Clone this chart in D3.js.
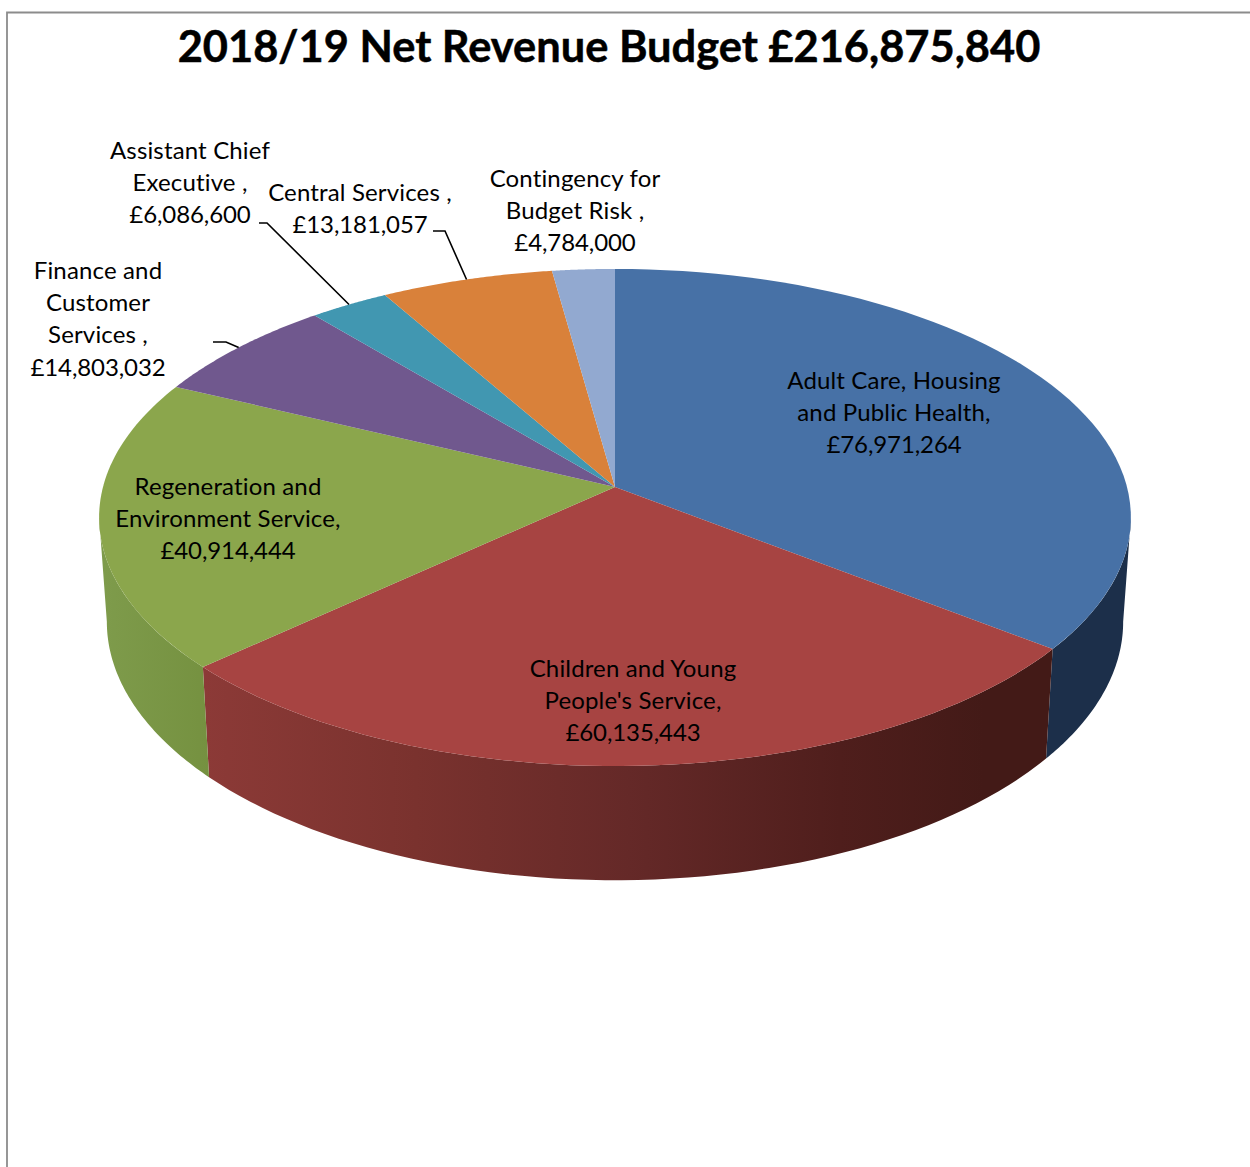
<!DOCTYPE html>
<html>
<head>
<meta charset="utf-8">
<script src="https://cdn.jsdelivr.net/npm/d3@7"></script>
<style>
html,body{margin:0;padding:0;background:#fff;}
svg{display:block;}
text{font-family:Lato,"Noto Sans",sans-serif;fill:#000;font-variant-ligatures:none;}
</style>
</head>
<body>
<script>
// Budget by service area, in pounds
const services = ["Adult Care, Housing and Public Health","Children and Young People's Service","Regeneration and Environment Service","Finance and Customer Services","Assistant Chief Executive","Central Services","Contingency for Budget Risk"];
const budgets = [76971264,60135443,40914444,14803032,6086600,13181057,4784000];
const topColours = ["#4771a6","#a74442","#8ba64c","#70588e","#4197b1","#d9813a","#92a9d0"];
const labelLines = [
  ["Adult Care, Housing","and Public Health,","£76,971,264"],
  ["Children and Young","People's Service,","£60,135,443"],
  ["Regeneration and","Environment Service,","£40,914,444"],
  ["Finance and","Customer","Services ,","£14,803,032"],
  ["Assistant Chief","Executive ,","£6,086,600"],
  ["Central Services ,","£13,181,057"],
  ["Contingency for","Budget Risk ,","£4,784,000"]
];
const labelX = [894,633,228,98,190,360,575];
const labelY = [381,669,487,271,151,193,179];
const leaderStart = [null,null,null,[213,342,226],[259,223,267],[433,231,445],null];
const titleText = "2018/19 Net Revenue Budget £216,875,840";

const W = 1250, H = 1167;
const svg = d3.select("body").append("svg").attr("width",W).attr("height",H);

// Frame: top and left edges run off the page
svg.append("path").attr("d",`M7,${H}V12.5H${W}`).attr("fill","none").attr("stroke","#8c8c8c").attr("stroke-width",1.8);

// Perspective disc: angle on the unit circle to screen position
const cx = 615, cy = 487, ax = 512, by = 244.8, persp = -0.1227;
const topFace = a => {
  const u = Math.sin(a), v = -Math.cos(a), w = 1 + persp*v;
  return [cx + ax*u/w, cy + by*v/w];
};
const baseFace = a => {
  const [x,y] = topFace(a);
  return [cx + 0.985*(x-cx), 590 + 1.04*(y-cy)];
};
const sampled = (f,a0,a1) => d3.range(0,61).map(i => f(a0+(a1-a0)*i/60));
const line = d3.line();

const arcs = d3.pie().sort(null).value(d=>d)(budgets);

// Side wall colours
const defs = svg.append("defs");
const redWall = defs.append("linearGradient").attr("id","wallRed").attr("gradientUnits","userSpaceOnUse")
  .attr("x1",204).attr("x2",1052).attr("y1",0).attr("y2",0);
[[0,"#8c3a37"],[0.25,"#7a322e"],[0.5,"#652928"],[0.75,"#4f1e1c"],[0.92,"#431a17"],[1,"#431a17"]]
  .forEach(([o,c])=>redWall.append("stop").attr("offset",o).attr("stop-color",c));
const greenWall = defs.append("linearGradient").attr("id","wallGreen").attr("gradientUnits","userSpaceOnUse")
  .attr("x1",104).attr("x2",210).attr("y1",0).attr("y2",0);
[[0,"#7e9b4b"],[1,"#759140"]].forEach(([o,c])=>greenWall.append("stop").attr("offset",o).attr("stop-color",c));

const rightLimit = Math.acos(persp), leftLimit = 2*Math.PI - rightLimit;
const walls = [
  {a0:rightLimit, a1:arcs[0].endAngle, fill:"#1c2f4a"},
  {a0:arcs[1].startAngle, a1:arcs[1].endAngle, fill:"url(#wallRed)"},
  {a0:arcs[2].startAngle, a1:leftLimit, fill:"url(#wallGreen)"}
];
svg.append("g").selectAll("path").data(walls).join("path")
  .attr("fill",d=>d.fill)
  .attr("d",d=>line(sampled(topFace,d.a0,d.a1).concat(sampled(baseFace,d.a1,d.a0)))+"Z");

// Top surface slices
svg.append("g").selectAll("path").data(arcs).join("path")
  .attr("fill",(d,i)=>topColours[i])
  .attr("d",d=>line([[cx,cy]].concat(sampled(topFace,d.startAngle,d.endAngle)))+"Z");

// Leader lines from outside labels to the rim
svg.append("g").selectAll("path").data(arcs.filter((d,i)=>leaderStart[i])).join("path")
  .attr("fill","none").attr("stroke","#000").attr("stroke-width",1.6)
  .attr("d",d=>{
    const s = leaderStart[d.index];
    const end = topFace((d.startAngle+d.endAngle)/2);
    return line([[s[0],s[1]],[s[2],s[1]],end]);
  });

// Data labels; amount lines run a touch tighter than the word lines
const fs = 24, lh = 32.2;
const labels = svg.append("g").selectAll("text").data(labelLines).join("text")
  .attr("text-anchor","middle").attr("font-size",fs);
labels.each(function(lines,i){
  d3.select(this).selectAll("tspan").data(lines).join("tspan")
    .attr("x",labelX[i]).attr("y",(l,j)=>labelY[i]+j*lh+8)
    .attr("letter-spacing",l=>l.startsWith("£")?-0.1:0.15)
    .text(l=>l);
});

svg.append("text").attr("x",609).attr("y",62).attr("text-anchor","middle")
  .attr("font-size",43.4).attr("font-weight",700)
  .attr("stroke","#000").attr("stroke-width",0.5).text(titleText);
</script>
</body>
</html>
